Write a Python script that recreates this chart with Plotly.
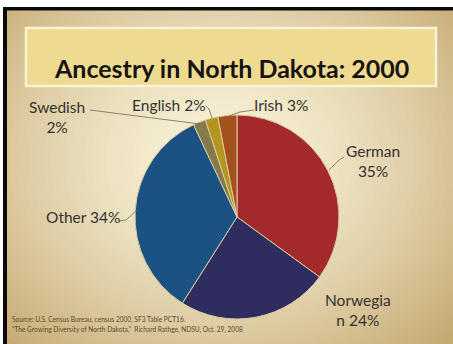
import plotly.graph_objects as go

# ---- data ----
categories = ["German", "Norwegian", "Other", "Swedish", "English", "Irish"]
percent = [35, 24, 34, 2, 2, 3]
slice_colors = ["#a3292a", "#2f2d5f", "#1b5183", "#857a4c", "#b4951f", "#a2511f"]
label_text = ["German<br>35%", "Norwegia<br>n 24%", "Other 34%", "Swedish<br>2%", "English 2%", "Irish 3%"]
title_text = "Ancestry in North Dakota: 2000"
source_lines = ["Source: U.S. Census Bureau, census 2000, SF3 Table PCT16.",
                "\u201cThe Growing Diversity of North Dakota,\u201d  Richard Rathge, NDSU, Oct. 29, 2008"]

W, H = 453, 344
def px(x): return x / W
def py(y): return 1 - y / H

def lerp_col(c1, c2, t):
    a = [int(c1[i:i+2], 16) for i in (1, 3, 5)]
    b = [int(c2[i:i+2], 16) for i in (1, 3, 5)]
    return "#%02x%02x%02x" % tuple(int(round(a[k] + (b[k] - a[k]) * t)) for k in range(3))

shapes = []
shapes.append(dict(type="rect", xref="paper", yref="paper", x0=px(7), x1=px(460), y0=py(10), y1=py(350),
                   fillcolor="#c5a972", line=dict(width=0), layer="below"))
# radial gradient via concentric ellipses
N = 45
cx, cy = 222, 160
light, dark = "#f8f2d8", "#c5a972"
for i in range(N):
    t = 1 - i / (N - 1)
    rx = 15 + 300 * t
    ry = 12 + 250 * t
    col = lerp_col(light, dark, t ** 1.4)
    shapes.append(dict(type="circle", xref="paper", yref="paper",
                       x0=px(cx - rx), x1=px(cx + rx), y0=py(cy + ry), y1=py(cy - ry),
                       fillcolor=col, line=dict(width=0), layer="below"))
# frame edges over ellipses
shapes.append(dict(type="rect", xref="paper", yref="paper", x0=px(-5), x1=px(460), y0=py(-5), y1=py(7),
                   fillcolor="#ffffff", line=dict(width=0), layer="below"))
shapes.append(dict(type="rect", xref="paper", yref="paper", x0=px(3), x1=px(460), y0=py(7), y1=py(10.5),
                   fillcolor="#0a0a0a", line=dict(width=0), layer="below"))
shapes.append(dict(type="rect", xref="paper", yref="paper", x0=px(-5), x1=px(3), y0=py(7), y1=py(350),
                   fillcolor="#ffffff", line=dict(width=0), layer="below"))
shapes.append(dict(type="rect", xref="paper", yref="paper", x0=px(3), x1=px(7), y0=py(7), y1=py(350),
                   fillcolor="#0a0a0a", line=dict(width=0), layer="below"))
# title box
shapes.append(dict(type="rect", xref="paper", yref="paper", x0=px(26), x1=px(436), y0=py(28), y1=py(86),
                   fillcolor="#efda92", line=dict(color="#fbf4d4", width=2.5), layer="below"))

# leader lines
leaders = [
    [(90, 110), (200, 124)],               # Swedish
    [(206, 106), (209, 109), (212, 118)],  # English
    [(254, 110), (240, 112), (229, 116)],  # Irish
    [(344, 157), (339, 160), (329, 170)],  # German
    [(119, 221), (126, 220), (137, 210)],  # Other
]
for pts in leaders:
    path = "M " + " L ".join(f"{px(x)},{py(y)}" for x, y in pts)
    shapes.append(dict(type="path", xref="paper", yref="paper", path=path,
                       line=dict(color="#6f6a55", width=0.8)))

fig = go.Figure()
fig.add_trace(go.Pie(
    labels=categories, values=percent, sort=False, direction="clockwise", rotation=0,
    marker=dict(colors=slice_colors, line=dict(color="#dccaa0", width=1)),
    textinfo="none", hoverinfo="label+percent", showlegend=False,
    domain=dict(x=[px(135), px(339)], y=[py(319), py(115)]),
))

lab_font = dict(family="Lato, Open Sans, sans-serif", size=15.5, color="#34322e")
label_pos = {
    "German": (373, 161, "center"),
    "Norwegian": (358, 310, "center"),
    "Other": (83, 217, "center"),
    "Swedish": (57, 117, "center"),
    "English": (169, 105, "center"),
    "Irish": (281, 105, "center"),
}
annotations = []
for cat, txt in zip(categories, label_text):
    x, y, al = label_pos[cat]
    annotations.append(dict(x=px(x), y=py(y), xref="paper", yref="paper", text=txt, showarrow=False,
                            font=lab_font, align=al, xanchor="center", yanchor="middle"))
annotations.append(dict(x=px(232), y=py(68), xref="paper", yref="paper", text=title_text, showarrow=False,
                        font=dict(family="Lato, sans-serif", size=25, color="#161412", weight="bold"),
                        xanchor="center", yanchor="middle"))
for i, line in enumerate(source_lines):
    annotations.append(dict(x=px(10), y=py(319 + 10.5 * i), xref="paper", yref="paper", text=line,
                            showarrow=False, font=dict(family="Lato, sans-serif", size=6.6, color="#5a4b2e"),
                            xanchor="left", yanchor="middle"))

fig.update_layout(width=W, height=H, margin=dict(l=0, r=0, t=0, b=0),
                  paper_bgcolor="#ffffff", plot_bgcolor="rgba(0,0,0,0)",
                  shapes=shapes, annotations=annotations)
fig.write_html("out.html")
